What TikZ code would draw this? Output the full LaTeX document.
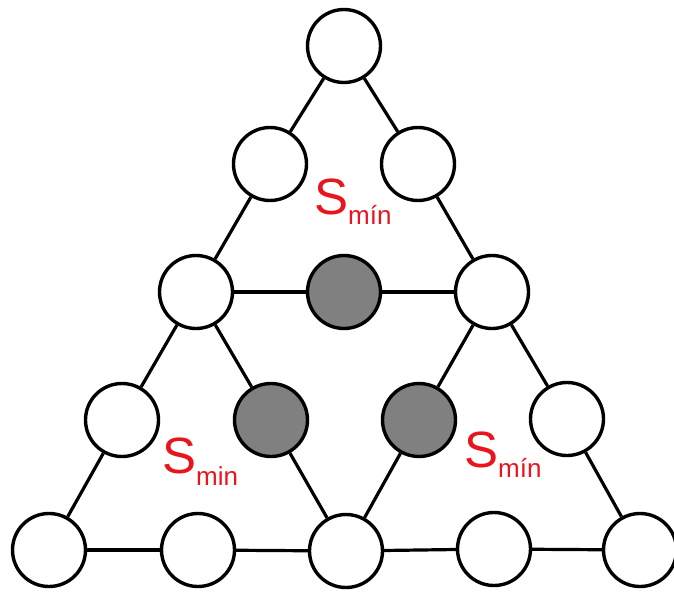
\documentclass[tikz,border=0pt]{standalone}
\usepackage{fontspec}
\setmainfont{Liberation Sans}
\definecolor{smred}{RGB}{232,20,30}
\definecolor{dotgray}{RGB}{128,128,128}
\begin{document}
\begin{tikzpicture}[x=1pt,y=-1pt,
  dot/.style={circle,draw=black,line width=3.4pt,fill=white,minimum size=73pt,inner sep=0pt},
  dark/.style={dot,fill=dotgray},
  edge/.style={line width=3.2pt,black},
  slabel/.style={anchor=base west,inner sep=0pt,text=smred}]
\useasboundingbox (0,0) rectangle (674,594);
% nodes
\node[dot] (t) at (344,46) {};
\node[dot] (a1) at (270,164) {};
\node[dot] (a2) at (418,164) {};
\node[dot] (b1) at (196,292) {};
\node[dark] (b2) at (344,292) {};
\node[dot] (b3) at (492,292) {};
\node[dot] (c1) at (122,420) {};
\node[dark] (c2) at (271,420) {};
\node[dark] (c3) at (419,420) {};
\node[dot] (c4) at (567,419) {};
\node[dot] (d1) at (49,550) {};
\node[dot] (d2) at (198,550) {};
\node[dot] (d3) at (346,551) {};
\node[dot] (d4) at (494,549) {};
\node[dot] (d5) at (640,550) {};
% edges
\draw[edge] (t) -- (a1);
\draw[edge] (t) -- (a2);
\draw[edge] (a1) -- (b1);
\draw[edge] (a2) -- (b3);
\draw[edge] (b1) -- (b2);
\draw[edge] (b2) -- (b3);
\draw[edge] (b1) -- (c1);
\draw[edge] (b1) -- (c2);
\draw[edge] (b3) -- (c3);
\draw[edge] (b3) -- (c4);
\draw[edge] (c1) -- (d1);
\draw[edge] (c2) -- (d3);
\draw[edge] (c3) -- (d3);
\draw[edge] (c4) -- (d5);
\draw[edge] (d1) -- (d2);
\draw[edge] (d2) -- (d3);
\draw[edge] (d3) -- (d4);
\draw[edge] (d4) -- (d5);
% labels
\node[slabel] (s1) at (314,214) {\fontsize{51}{51}\selectfont S\raisebox{-10pt}{\fontsize{26}{26}\selectfont mín}};
\node[slabel] (s2) at (162,473) {\fontsize{51}{51}\selectfont S\raisebox{-12pt}{\fontsize{26}{26}\selectfont min}};
\node[slabel] (s3) at (464,467) {\fontsize{51}{51}\selectfont S\raisebox{-10pt}{\fontsize{26}{26}\selectfont mín}};
\end{tikzpicture}
\end{document}
